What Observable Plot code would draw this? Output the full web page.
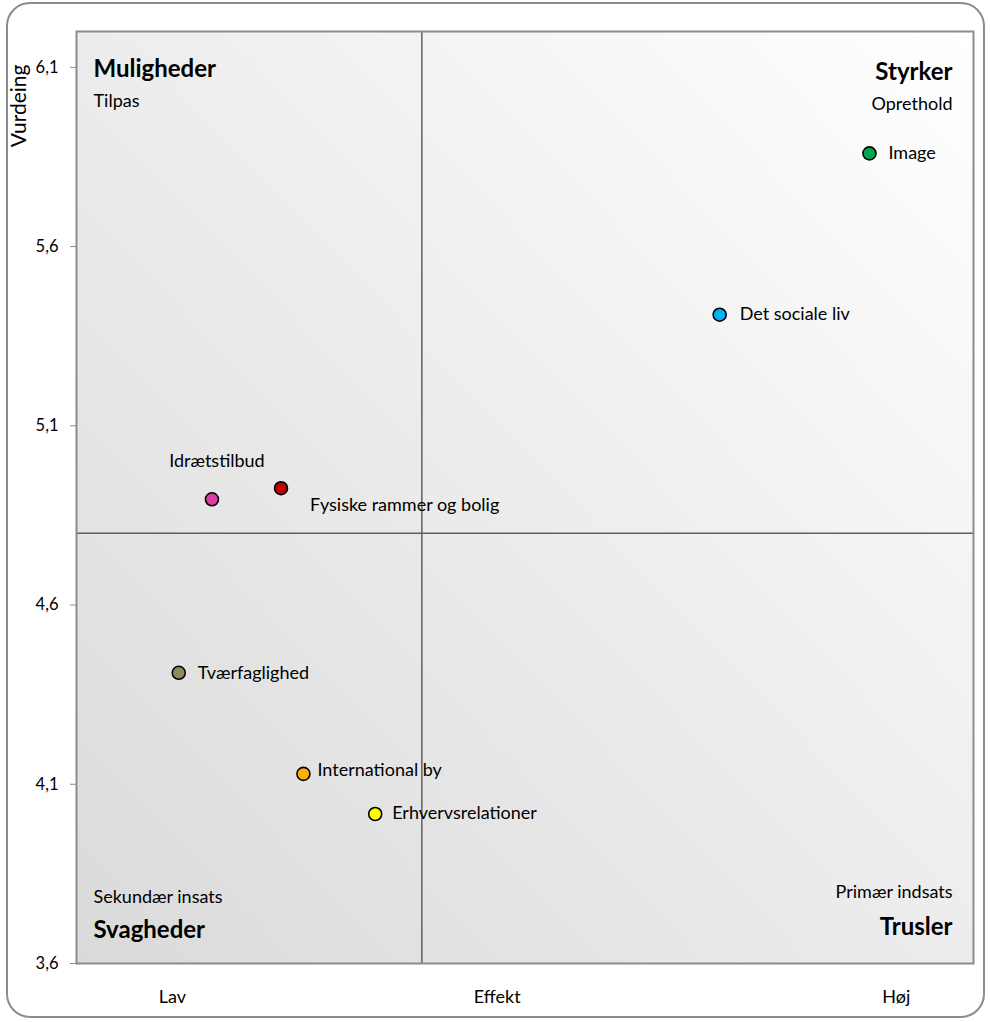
<!DOCTYPE html>
<html>
<head>
<meta charset="utf-8">
<script src="https://cdn.jsdelivr.net/npm/d3@7"></script>
<script src="https://cdn.jsdelivr.net/npm/@observablehq/plot@0.6"></script>
<style>
  html, body { margin: 0; padding: 0; background: #fff; }
  #wrap { position: relative; width: 990px; height: 1022px; }
  #border { position: absolute; left: 6px; top: 2px; width: 979px; height: 1016px; box-sizing: border-box;
            border: 2px solid #8c8c8c; border-radius: 24px; pointer-events: none; }
  #wrap svg { position: absolute; left: 0; top: 0; }
</style>
</head>
<body>
<div id="wrap"><div id="border"></div></div>
<script>
// ---- data ----
const names = ["Image", "Det sociale liv", "Idrætstilbud", "Fysiske rammer og bolig", "Tværfaglighed", "International by", "Erhvervsrelationer"];
const effekt = [88.4, 71.7, 15.1, 22.8, 11.4, 25.3, 33.3];
const vurdering = [5.86, 5.41, 4.895, 4.926, 4.411, 4.129, 4.017];
const colors = ["#00a550", "#00b0f0", "#d83fa3", "#c00000", "#8f8a5c", "#ffb000", "#ffff00"];

const yTicks = [3.6, 4.1, 4.6, 5.1, 5.6, 6.1];
const xTickValues = [10.7, 46.9, 91.4];
const xTickLabels = ["Lav", "Effekt", "Høj"];
const dividerX = 38.5;
const dividerY = 4.8;

const quadTitles = ["Muligheder", "Styrker", "Svagheder", "Trusler"];
const quadSubs = ["Tilpas", "Oprethold", "Sekundær insats", "Primær indsats"];
const yLabel = "Vurdeing";

const points = names.map((n, i) => ({name: n, x: effekt[i], y: vurdering[i], color: colors[i]}));

// label placement (styling)
const labelPos = {
  "Image": {dx: 19, dy: 0, anchor: "start"},
  "Det sociale liv": {dx: 20, dy: 0, anchor: "start"},
  "Idrætstilbud": {dx: 5, dy: -38, anchor: "middle"},
  "Fysiske rammer og bolig": {dx: 29, dy: 17, anchor: "start"},
  "Tværfaglighed": {dx: 19, dy: 0, anchor: "start"},
  "International by": {dx: 14, dy: -4, anchor: "start"},
  "Erhvervsrelationer": {dx: 17, dy: -1, anchor: "start"}
};

const labelMarks = points.map(p => {
  const L = labelPos[p.name];
  return Plot.text([p], {x: "x", y: "y", text: "name", dx: L.dx, dy: L.dy, textAnchor: L.anchor,
    fontSize: 18, fill: "#000"});
});

const titleFont = {fontSize: 24, fontWeight: "bold", fill: "#000"};
const subFont = {fontSize: 18, fill: "#000"};

const plot = Plot.plot({
  width: 990,
  height: 1022,
  marginLeft: 76,
  marginTop: 31,
  marginRight: 17,
  marginBottom: 59,
  x: {domain: [0, 100]},
  y: {domain: [3.6, 6.2]},
  color: {type: "identity"},
  style: {fontFamily: "Lato, 'Open Sans', sans-serif", fontSize: "16px", color: "#000", background: "transparent", overflow: "visible"},
  marks: [
    Plot.frame({fill: "url(#bgGrad)", stroke: "none"}),
    Plot.ruleX([dividerX], {stroke: "#5f5f5f", strokeWidth: 1.5}),
    Plot.ruleY([dividerY], {stroke: "#5f5f5f", strokeWidth: 1.5}),
    Plot.frame({stroke: "#8c8c8c", strokeWidth: 2}),
    Plot.axisY({ticks: yTicks, tickFormat: d => d.toFixed(1).replace(".", ","), tickSize: 6, tickPadding: 12,
      stroke: "#8c8c8c", fontSize: 16.5, label: null}),
    Plot.axisX({ticks: xTickValues, tickFormat: (d, i) => xTickLabels[i], tickSize: 0, tickPadding: 27,
      fontSize: 18, label: null}),
    Plot.text([yLabel], {frameAnchor: "top-left", text: d => d, rotate: -90, textAnchor: "end", dx: -65, dy: 33, fontSize: 21, fill: "#000"}),
    // quadrant titles and subtitles
    Plot.text([quadTitles[0]], {frameAnchor: "top-left", text: d => d, textAnchor: "start", dx: 17, dy: 28, ...titleFont}),
    Plot.text([quadSubs[0]], {frameAnchor: "top-left", text: d => d, textAnchor: "start", dx: 17, dy: 63, ...subFont}),
    Plot.text([quadTitles[1]], {frameAnchor: "top-right", text: d => d, textAnchor: "end", dx: -21, dy: 31, ...titleFont}),
    Plot.text([quadSubs[1]], {frameAnchor: "top-right", text: d => d, textAnchor: "end", dx: -21, dy: 66, ...subFont}),
    Plot.text([quadTitles[2]], {frameAnchor: "bottom-left", text: d => d, textAnchor: "start", dx: 17, dy: -26, ...titleFont}),
    Plot.text([quadSubs[2]], {frameAnchor: "bottom-left", text: d => d, textAnchor: "start", dx: 17, dy: -61, ...subFont}),
    Plot.text([quadTitles[3]], {frameAnchor: "bottom-right", text: d => d, textAnchor: "end", dx: -21, dy: -29, ...titleFont}),
    Plot.text([quadSubs[3]], {frameAnchor: "bottom-right", text: d => d, textAnchor: "end", dx: -21, dy: -66, ...subFont}),
    Plot.dot(points, {x: "x", y: "y", r: 6.5, fill: "color", stroke: "#000", strokeWidth: 1.6}),
    ...labelMarks
  ]
});

d3.select(plot).insert("defs", ":first-child").html(
  `<linearGradient id="bgGrad" x1="0" y1="1" x2="1" y2="0">
     <stop offset="0" stop-color="#dadada"/>
     <stop offset="1" stop-color="#ffffff"/>
   </linearGradient>`);

document.getElementById("wrap").insertBefore(plot, document.getElementById("border"));
</script>
</body>
</html>
